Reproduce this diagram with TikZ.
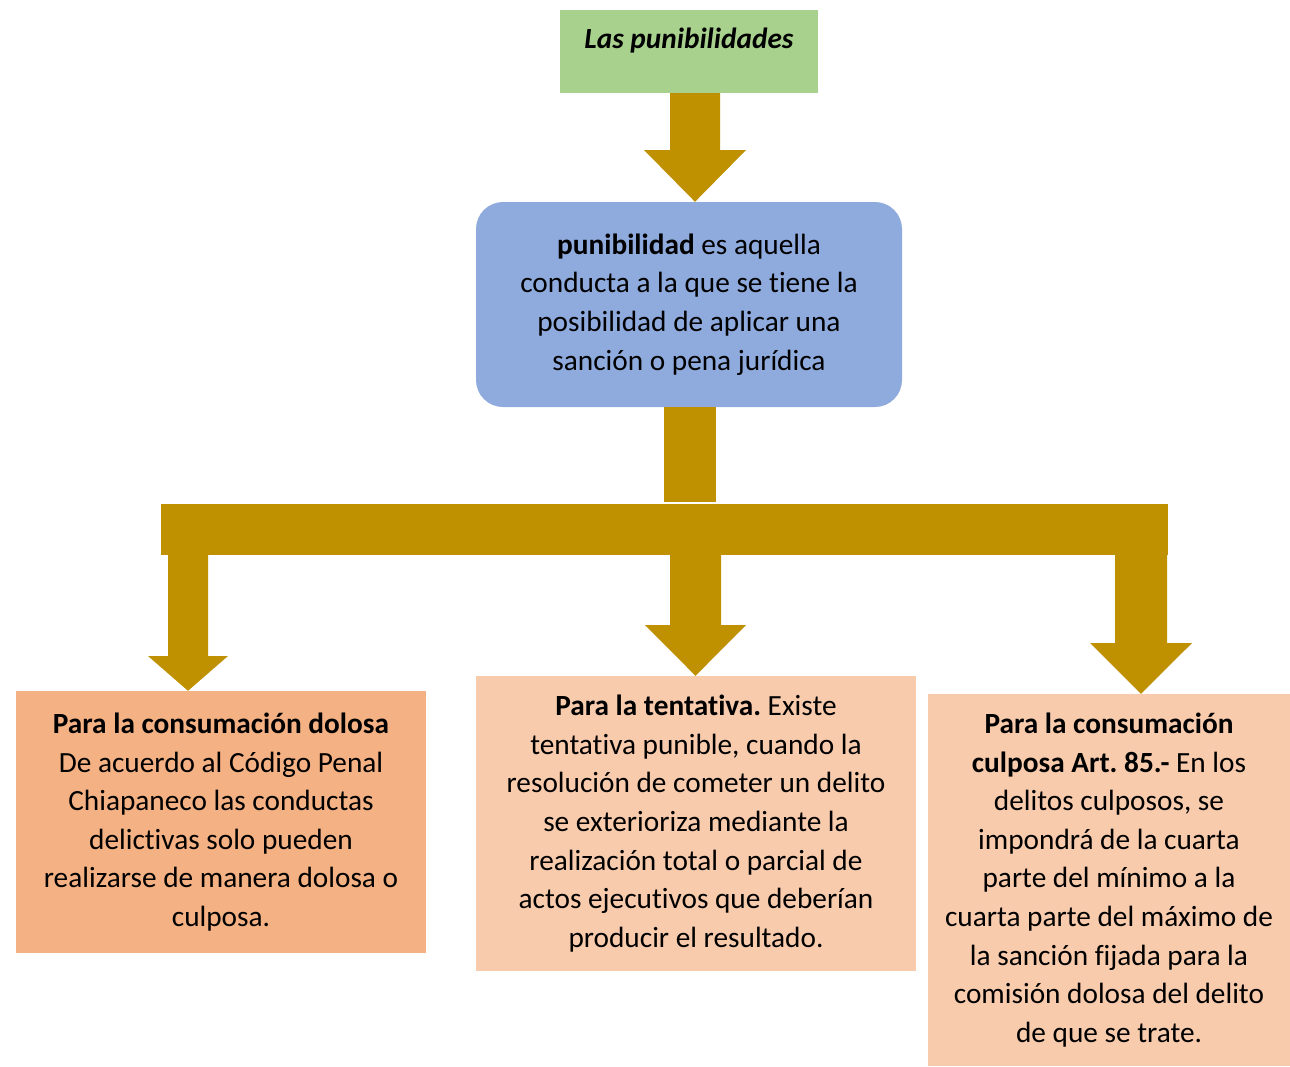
\documentclass[tikz,border=0pt]{standalone}
\usepackage{fontspec}
\setmainfont{Carlito}[Ligatures=NoCommon]
\frenchspacing
\definecolor{verde}{HTML}{A9D18E}
\definecolor{azul}{HTML}{8FAADC}
\definecolor{naranja}{HTML}{F4B183}
\definecolor{durazno}{HTML}{F8CBAD}
\definecolor{oro}{HTML}{BF9000}
\begin{document}
\begin{tikzpicture}[x=1pt, y=-1pt,
    every node/.style = {shape=rectangle, align=center, inner sep=0pt,
      font=\fontsize{29.3}{38.6}\selectfont},
    flecha/.style = {fill=oro}]
  \useasboundingbox (0,0) rectangle (1290,1066);
  % cajas
  \node[fill=verde, minimum width=258pt, minimum height=83pt,
        text height=17pt, text depth=24pt] (titulo) at (689,51.5)
        {\textbf{\textit{Las punibilidades}}};
  \node[fill=azul, rounded corners=27pt, minimum width=426pt, minimum height=205pt]
        (def) at (689,304.5)
        {\textbf{punibilidad} es aquella \\ conducta a la que se tiene la \\
         posibilidad de aplicar una \\ sanción o pena jurídica};
  \node[fill=naranja, minimum width=410pt, minimum height=262pt] (dolosa) at (221,822)
        {\textbf{Para la consumación dolosa} \\ De acuerdo al Código Penal \\
         Chiapaneco las conductas \\ delictivas solo pueden \\
         realizarse de manera dolosa o \\ culposa.};
  \node[fill=durazno, minimum width=440pt, minimum height=295pt] (tentativa) at (696,823.5)
        {\textbf{Para la tentativa.} Existe \\ tentativa punible, cuando la \\
         resolución de cometer un delito \\ se exterioriza mediante la \\
         realización total o parcial de \\ actos ejecutivos que deberían \\
         producir el resultado.};
  \node[fill=durazno, minimum width=362pt, minimum height=372pt] (culposa) at (1109,880)
        {\textbf{Para la consumación} \\ \textbf{culposa Art. 85.-} En los \\
         delitos culposos, se \\ impondrá de la cuarta \\ parte del mínimo a la \\
         cuarta parte del máximo de \\ la sanción fijada para la \\
         comisión dolosa del delito \\ de que se trate.};
  % flechas
  \fill[flecha] (670,0 |- titulo.south) -- (670,150) -- (644,150) -- (695,0 |- def.north)
        -- (746,150) -- (720,150) -- (720,0 |- titulo.south) -- cycle;
  \fill[flecha] (664,0 |- def.south) rectangle (716,502);
  \fill[flecha] (161,504) rectangle (1168,555);
  \foreach \cx/\hs/\hh/\yb/\dest in {188/20/40/656/dolosa,
      695.5/25.5/50.5/625/tentativa, 1141/26/51/643/culposa}
    \fill[flecha] (\cx-\hs,555) -- (\cx-\hs,\yb) -- (\cx-\hh,\yb) -- (\cx,0 |- \dest.north)
        -- (\cx+\hh,\yb) -- (\cx+\hs,\yb) -- (\cx+\hs,555) -- cycle;
\end{tikzpicture}
\end{document}
